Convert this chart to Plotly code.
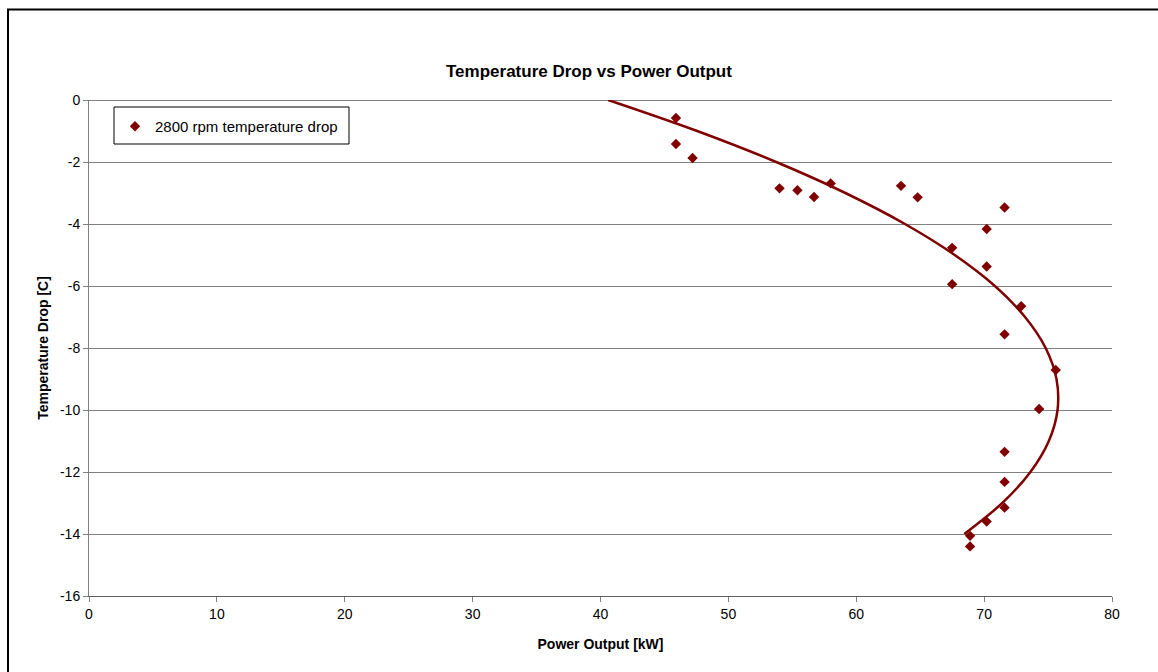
import plotly.graph_objects as go

# Measured data points
power_kw = [45.9, 45.9, 47.2, 54.0, 55.4, 56.7, 58.0, 63.5, 64.8, 71.6, 70.2, 67.5,
            70.2, 67.5, 72.9, 71.6, 75.6, 74.3, 71.6, 71.6, 71.6, 70.2, 68.9, 68.9]
temp_drop = [-0.58, -1.42, -1.87, -2.85, -2.91, -3.13, -2.69, -2.77, -3.14, -3.47, -4.16, -4.77,
             -5.37, -5.94, -6.65, -7.56, -8.71, -9.97, -11.35, -12.32, -13.15, -13.6, -14.06, -14.4]

# Trend curve
trend_temp = [0, -1, -2, -3, -4, -5, -6, -7, -8, -9, -10, -11, -12, -13, -14]
trend_power = [40.6, 47.56, 53.74, 59.15, 63.81, 67.7, 70.84, 73.2, 74.81, 75.66, 75.74,
               75.06, 73.62, 71.42, 68.45]

x_ticks = [0, 10, 20, 30, 40, 50, 60, 70, 80]
y_ticks = [0, -2, -4, -6, -8, -10, -12, -14, -16]
y_tick_text = ["0", "-2", "-4", "-6", "-8", "-10", "-12", "-14", "-16"]

COLOR = "#800000"
FONT = "Liberation Sans, Arial, sans-serif"

fig = go.Figure()
fig.add_trace(go.Scatter(
    x=trend_power, y=trend_temp, mode="lines", line=dict(color=COLOR, width=2.5, shape="spline"),
    showlegend=False, hoverinfo="skip"))
fig.add_trace(go.Scatter(
    x=power_kw, y=temp_drop, mode="markers", name="2800 rpm temperature drop",
    marker=dict(symbol="diamond", size=8, color=COLOR)))

W, H = 1158, 672
L, R, T, B = 89, 46, 100, 76
pw, ph = W - L - R, H - T - B

def px(x):
    return (x - L) / pw

def py(y):
    return (H - B - y) / ph

fig.update_layout(
    width=W, height=H,
    margin=dict(l=L, r=R, t=T, b=B),
    paper_bgcolor="white", plot_bgcolor="white",
    font=dict(family=FONT, size=14, color="black"),
    showlegend=True,
    legend=dict(x=px(115), y=py(110), xanchor="left", yanchor="top",
                bgcolor="rgba(0,0,0,0)", borderwidth=0, font=dict(size=15)),
    xaxis=dict(range=[0, 80], tickvals=x_ticks, ticks="outside", ticklen=5, tickcolor="#808080",
               showline=True, linecolor="#606060", linewidth=1, showgrid=False, zeroline=False,
               title=dict(text="<b>Power Output [kW]</b>", standoff=18, font=dict(size=14))),
    yaxis=dict(range=[-16, 0], tickvals=y_ticks, ticktext=y_tick_text, ticks="outside", ticklen=5,
               tickcolor="#808080",
               showline=True, linecolor="#808080", linewidth=1, showgrid=True, gridcolor="#808080",
               gridwidth=1, zeroline=True, zerolinecolor="#808080", zerolinewidth=1,
               title=dict(text="<b>Temperature Drop [C]</b>", standoff=8, font=dict(size=14))),
    shapes=[
        dict(type="rect", xref="paper", yref="paper", x0=px(114), x1=px(349), y0=py(144), y1=py(107),
             line=dict(color="black", width=1), fillcolor="rgba(0,0,0,0)"),
        dict(type="rect", xref="paper", yref="paper", x0=px(8), x1=px(1175), y0=py(690), y1=py(9.5),
             line=dict(color="black", width=2), fillcolor="rgba(0,0,0,0)"),
    ],
    annotations=[
        dict(text="<b>Temperature Drop vs Power Output</b>", xref="paper", yref="paper",
             x=px(589), y=py(71), xanchor="center", yanchor="middle", showarrow=False,
             font=dict(size=17)),
    ],
)

fig.write_html("out.html")
